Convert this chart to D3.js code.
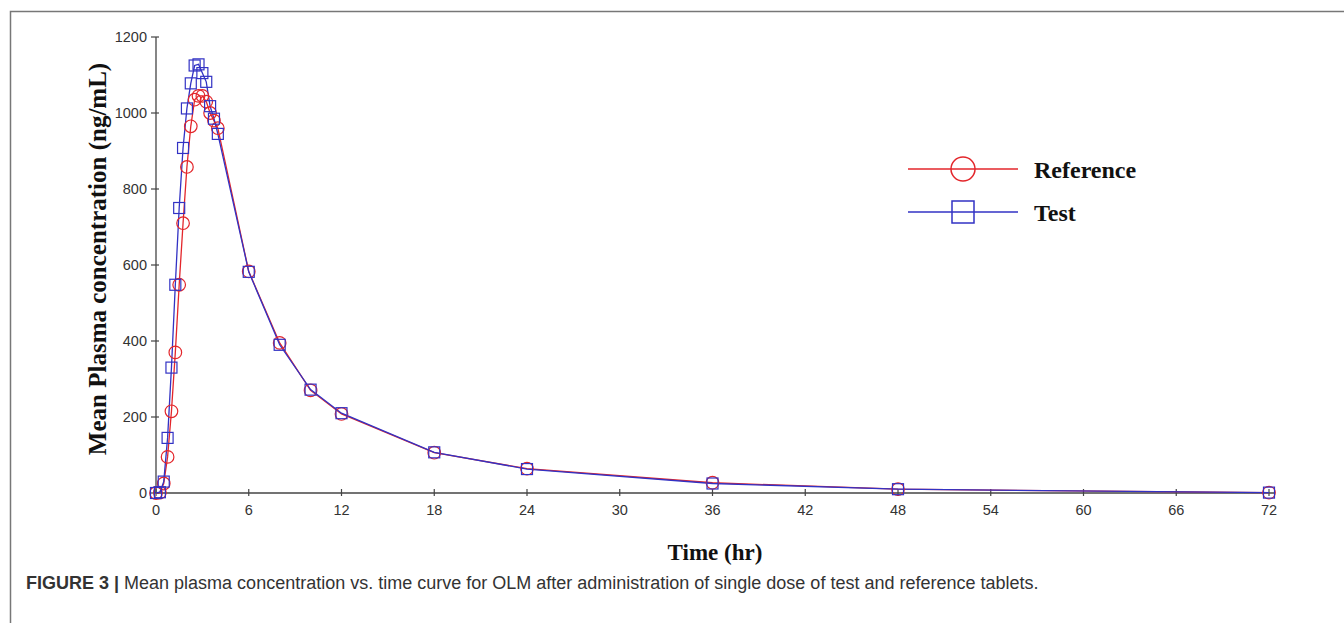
<!DOCTYPE html>
<html>
<head>
<meta charset="utf-8">
<script src="https://cdn.jsdelivr.net/npm/d3@7.9.0/dist/d3.min.js"></script>
<style>
  body { margin: 0; background: #fff; }
  svg { display: block; }
</style>
</head>
<body>
<svg id="chart" width="1344" height="623"></svg>
<script>
// sampling times (hr)
const times = [0, 0.25, 0.5, 0.75, 1, 1.25, 1.5, 1.75, 2, 2.25, 2.5, 2.75, 3, 3.25, 3.5, 3.75, 4, 6, 8, 10, 12, 18, 24, 36, 48, 72];
// mean plasma concentration (ng/mL)
const referenceValues = [0, 1, 25, 95, 215, 370, 548, 710, 858, 965, 1035, 1045, 1045, 1030, 1000, 980, 960, 583, 395, 270, 208, 106, 64, 27, 10, 1];
const testValues = [0, 2, 30, 145, 330, 548, 750, 908, 1012, 1078, 1125, 1128, 1105, 1082, 1018, 985, 945, 582, 390, 272, 210, 107, 63, 25, 10, 1];
const xTicks = [0, 6, 12, 18, 24, 30, 36, 42, 48, 54, 60, 66, 72];
const yTicks = [0, 200, 400, 600, 800, 1000, 1200];

const svg = d3.select('#chart');

// figure frame
svg.append('path')
  .attr('d', 'M10.5,623 L10.5,11.5 L1344,11.5')
  .attr('fill', 'none').attr('stroke', '#777').attr('stroke-width', 1.5);

const x = d3.scaleLinear().domain([0, 72]).range([156, 1269]);
const y = d3.scaleLinear().domain([0, 1200]).range([493, 37]);

// axes
const axisColor = '#444';
svg.append('line').attr('x1', x(0)).attr('x2', 1274).attr('y1', y(0)).attr('y2', y(0))
  .attr('stroke', axisColor).attr('stroke-width', 1.3);
svg.append('line').attr('x1', x(0)).attr('x2', x(0)).attr('y1', y(0)).attr('y2', y(1200))
  .attr('stroke', axisColor).attr('stroke-width', 1.3);

xTicks.forEach(t => {
  svg.append('line').attr('x1', x(t)).attr('x2', x(t)).attr('y1', y(0) - 4).attr('y2', y(0) + 3)
    .attr('stroke', axisColor).attr('stroke-width', 1.2);
  svg.append('text').attr('x', x(t)).attr('y', y(0) + 22)
    .attr('text-anchor', 'middle')
    .attr('font-family', 'Liberation Sans, Arial, sans-serif').attr('font-size', 14.5).attr('fill', '#333')
    .text(t);
});
yTicks.forEach(t => {
  svg.append('line').attr('x1', x(0) - 5).attr('x2', x(0) + 3).attr('y1', y(t)).attr('y2', y(t))
    .attr('stroke', axisColor).attr('stroke-width', 1.2);
  svg.append('text').attr('x', x(0) - 9).attr('y', y(t) + 5)
    .attr('text-anchor', 'end')
    .attr('font-family', 'Liberation Sans, Arial, sans-serif').attr('font-size', 14.5).attr('fill', '#333')
    .text(t);
});

// axis titles
svg.append('text')
  .attr('transform', 'translate(106,259) rotate(-90)')
  .attr('text-anchor', 'middle')
  .attr('font-family', 'Liberation Serif, Times New Roman, serif').attr('font-weight', 'bold')
  .attr('font-size', 25).attr('fill', '#111')
  .text('Mean Plasma concentration (ng/mL)');
svg.append('text')
  .attr('x', 715).attr('y', 560)
  .attr('text-anchor', 'middle')
  .attr('font-family', 'Liberation Serif, Times New Roman, serif').attr('font-weight', 'bold')
  .attr('font-size', 23).attr('fill', '#111')
  .text('Time (hr)');

const red = '#e3262b';
const blue = '#3232c4';

const line = d3.line().x(d => x(d[0])).y(d => y(d[1]));
const refData = times.map((t, i) => [t, referenceValues[i]]);
const testData = times.map((t, i) => [t, testValues[i]]);

svg.append('path').datum(refData).attr('d', line)
  .attr('fill', 'none').attr('stroke', red).attr('stroke-width', 1.3);
svg.append('path').datum(testData).attr('d', line)
  .attr('fill', 'none').attr('stroke', blue).attr('stroke-width', 1.3);

svg.selectAll('circle.ref').data(refData).enter().append('circle')
  .attr('class', 'ref')
  .attr('cx', d => x(d[0])).attr('cy', d => y(d[1])).attr('r', 6.3)
  .attr('fill', 'none').attr('stroke', red).attr('stroke-width', 1.2);
svg.selectAll('rect.test').data(testData).enter().append('rect')
  .attr('class', 'test')
  .attr('x', d => x(d[0]) - 5.5).attr('y', d => y(d[1]) - 5.5)
  .attr('width', 11).attr('height', 11)
  .attr('fill', 'none').attr('stroke', blue).attr('stroke-width', 1.2);

// legend
const legend = [
  { label: 'Reference', color: red, shape: 'circle', y: 169 },
  { label: 'Test', color: blue, shape: 'rect', y: 212 }
];
legend.forEach(l => {
  svg.append('line').attr('x1', 908).attr('x2', 1018).attr('y1', l.y).attr('y2', l.y)
    .attr('stroke', l.color).attr('stroke-width', 1.5);
  if (l.shape === 'circle') {
    svg.append('circle').attr('cx', 963).attr('cy', l.y).attr('r', 12)
      .attr('fill', 'none').attr('stroke', l.color).attr('stroke-width', 1.5);
  } else {
    svg.append('rect').attr('x', 952).attr('y', l.y - 11).attr('width', 22).attr('height', 22)
      .attr('fill', 'none').attr('stroke', l.color).attr('stroke-width', 1.5);
  }
  svg.append('text').attr('x', 1034).attr('y', l.y + 9)
    .attr('font-family', 'Liberation Serif, Times New Roman, serif').attr('font-weight', 'bold')
    .attr('font-size', 24).attr('fill', '#111')
    .text(l.label);
});

// caption
const cap = svg.append('text').attr('x', 26).attr('y', 589)
  .attr('font-family', 'Liberation Sans, Arial, sans-serif').attr('font-size', 18).attr('fill', '#333');
cap.append('tspan').attr('font-weight', 'bold').text('FIGURE 3 | ');
cap.append('tspan').text('Mean plasma concentration vs. time curve for OLM after administration of single dose of test and reference tablets.');
</script>
</body>
</html>
